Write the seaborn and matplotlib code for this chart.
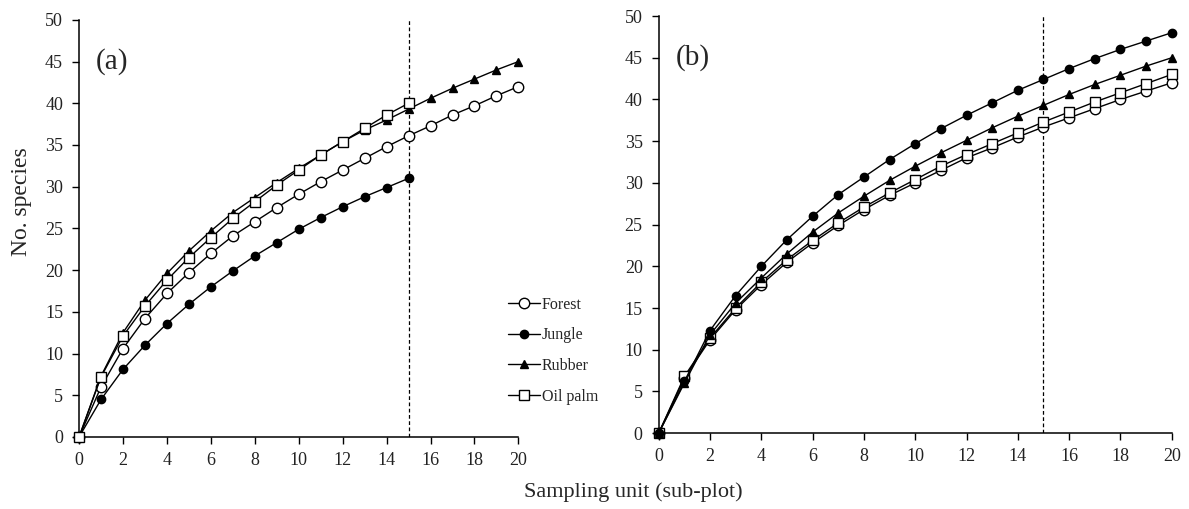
import numpy as np
import pandas as pd
import seaborn as sns
import matplotlib
matplotlib.use("Agg")
import matplotlib.pyplot as plt
from matplotlib.lines import Line2D

sns.set_style("ticks")
plt.rcParams['font.family'] = ['Liberation Serif', 'DejaVu Serif']

# Panel (a)
a_forest = [0, 6.0, 10.6, 14.2, 17.2, 19.7, 22.0, 24.1, 25.8, 27.5, 29.1, 30.6, 32.0, 33.4, 34.8, 36.1, 37.3, 38.6, 39.7, 40.9, 42.0]
a_jungle = [0, 4.5, 8.1, 11.0, 13.6, 15.9, 18.0, 19.9, 21.7, 23.3, 24.9, 26.3, 27.6, 28.8, 29.9, 31.0]
a_rubber = [0, 7.3, 12.5, 16.4, 19.6, 22.3, 24.7, 26.9, 28.7, 30.5, 32.2, 33.8, 35.4, 36.8, 38.0, 39.3, 40.6, 41.8, 42.9, 44.0, 45.0]
a_oilpalm = [0, 7.2, 12.1, 15.7, 18.8, 21.5, 23.9, 26.2, 28.2, 30.2, 32.0, 33.8, 35.4, 37.0, 38.6, 40.0]

# Panel (b)
b_forest = [0, 6.6, 11.2, 14.8, 17.8, 20.5, 22.8, 24.9, 26.8, 28.5, 30.0, 31.5, 33.0, 34.2, 35.5, 36.7, 37.8, 38.9, 40.0, 41.0, 42.0]
b_jungle = [0, 6.2, 12.3, 16.5, 20.0, 23.2, 26.0, 28.6, 30.7, 32.8, 34.7, 36.5, 38.1, 39.6, 41.1, 42.4, 43.7, 44.9, 46.0, 47.0, 48.0]
b_rubber = [0, 6.0, 11.8, 15.6, 18.6, 21.5, 24.1, 26.4, 28.4, 30.3, 32.0, 33.6, 35.1, 36.6, 38.0, 39.3, 40.6, 41.8, 42.9, 44.0, 45.0]
b_oilpalm = [0, 6.8, 11.4, 15.0, 18.1, 20.8, 23.1, 25.2, 27.1, 28.8, 30.4, 32.0, 33.4, 34.7, 36.0, 37.3, 38.5, 39.7, 40.8, 41.9, 43.0]

labels = ["Forest", "Jungle", "Rubber", "Oil palm"]
x_ticks = list(range(0, 21, 2))
y_ticks = list(range(0, 51, 5))
cutoff = 15

markers = {"Forest": "o", "Jungle": "o", "Rubber": "^", "Oil palm": "s"}
faces = {"Forest": "white", "Jungle": "black", "Rubber": "black", "Oil palm": "white"}
msizes = {"Forest": 7.5, "Jungle": 6.0, "Rubber": 6.0, "Oil palm": 7.5}

fig = plt.figure(figsize=(11.89, 5.09), dpi=100)
axa = fig.add_axes([0.0665, 0.1415, 0.3695, 0.8195])
axb = fig.add_axes([0.554, 0.149, 0.4315, 0.8195])

def draw(ax, series, order):
    for name in order:
        vals = series[name]
        df = pd.DataFrame({"x": list(range(len(vals))), "y": vals})
        sns.lineplot(data=df, x="x", y="y", ax=ax, color="black", linewidth=1.0,
                     marker=markers[name], markersize=msizes[name],
                     markerfacecolor=faces[name], markeredgecolor="black",
                     markeredgewidth=1.0, clip_on=False, zorder=3)
    ax.axvline(cutoff, color="black", linestyle=(0, (3, 2)), linewidth=0.9)
    ax.set_xlim(0, 20)
    ax.set_ylim(0, 50)
    ax.set_xticks(x_ticks)
    ax.set_yticks(y_ticks)
    ax.tick_params(labelsize=13, length=5, width=1, color="black", labelcolor="#222222")
    ax.tick_params(axis="y", pad=6.5)
    ax.tick_params(axis="x", pad=6)
    ax.set_xlabel("")
    ax.set_ylabel("")
    for s in ["top", "right"]:
        ax.spines[s].set_visible(False)
    for s in ["left", "bottom"]:
        ax.spines[s].set_linewidth(1.1)
        ax.spines[s].set_color("black")

draw(axa, {"Forest": a_forest, "Jungle": a_jungle, "Rubber": a_rubber, "Oil palm": a_oilpalm},
     ["Jungle", "Forest", "Rubber", "Oil palm"])
draw(axb, {"Forest": b_forest, "Jungle": b_jungle, "Rubber": b_rubber, "Oil palm": b_oilpalm},
     ["Forest", "Oil palm", "Rubber", "Jungle"])

axa.text(0.075, 0.9, "(a)", transform=axa.transAxes, fontsize=21, ha="center", va="center")
axb.text(0.066, 0.9, "(b)", transform=axb.transAxes, fontsize=21, ha="center", va="center")

handles = [Line2D([0], [0], color="black", linewidth=1.0, marker=markers[n],
                  markersize=msizes[n], markerfacecolor=faces[n], markeredgecolor="black")
           for n in labels]
axa.legend(handles, labels, loc="upper left", bbox_to_anchor=(0.962, 0.352), frameon=False,
           fontsize=11.5, handlelength=2.0, handletextpad=0.1, labelspacing=0.92, borderaxespad=0)

fig.text(0.0177, 0.603, "No. species", rotation=90, ha="center", va="center", fontsize=17)
fig.text(0.533, 0.024, "Sampling unit (sub-plot)", ha="center", va="baseline", fontsize=16)

fig.savefig("out.png", dpi=100, facecolor="white")
